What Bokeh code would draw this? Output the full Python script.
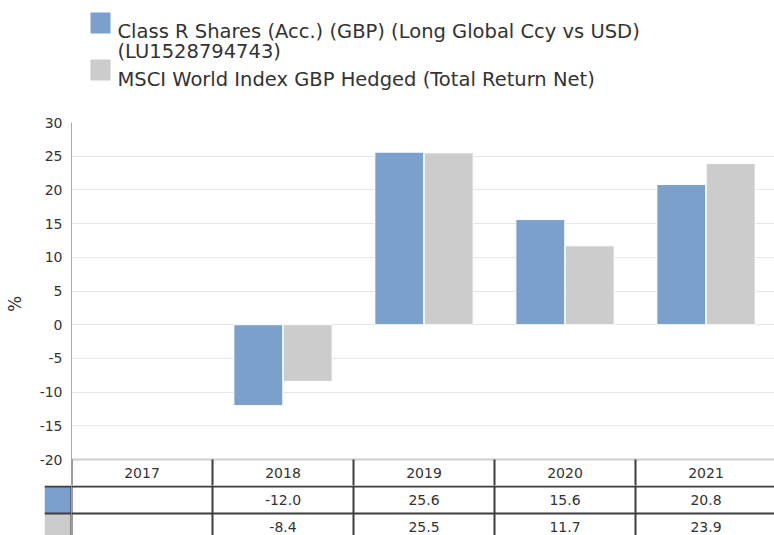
import numpy as np
from bokeh.plotting import figure
from bokeh.layouts import column, row
from bokeh.models import Range1d, FixedTicker, PrintfTickFormatter
from bokeh.core.properties import value
from bokeh.embed import file_html
from bokeh.resources import INLINE

# ---------------- data ----------------
years = ["2017", "2018", "2019", "2020", "2021"]
fund_values = [None, -12.0, 25.6, 15.6, 20.8]
index_values = [None, -8.4, 25.5, 11.7, 23.9]
fund_name_line1 = "Class R Shares (Acc.) (GBP) (Long Global Ccy vs USD)"
fund_name_line2 = "(LU1528794743)"
index_name = "MSCI World Index GBP Hedged (Total Return Net)"
y_ticks = [-20, -15, -10, -5, 0, 5, 10, 15, 20, 25, 30]
y_axis_label = "%"

# ---------------- style ----------------
FONT = "DejaVu Sans"
BLUE = "#7aa0cb"
GREY = "#cccccc"
DARK = "#3c3c3c"
TEXT = "#333333"
GRID = "#e6e6e6"
LEFT = 71

n = len(years)
centers = np.arange(n) + 0.5
X_END = 4.9858          # last column is partly cut by the window
Y_MIN = -23.85          # bottom of header row
BAR_W = 0.347
OFF = 0.175
T_RANGE = (0.185, 2.037)


def clean(fig):
    fig.axis.visible = False
    fig.grid.visible = False
    fig.outline_line_color = None


# ---------------- legend ----------------
lg = figure(width=774, height=100, x_range=Range1d(LEFT, 774), y_range=Range1d(100, 0),
            output_backend="svg", toolbar_location=None,
            min_border_left=LEFT, min_border_right=0, min_border_top=0, min_border_bottom=0)
clean(lg)
lg.quad(left=[90, 90], right=[110, 110], top=[12, 59], bottom=[33, 80],
        fill_color=[BLUE, GREY], line_color=None)
lg.text(x=[117, 117, 117], y=[31, 51, 79],
        text=[fund_name_line1, fund_name_line2, index_name],
        text_baseline="alphabetic", text_align="left",
        text_font=value(FONT), text_font_size=value("19.5px"), text_color=TEXT)

# ---------------- chart ----------------
p = figure(width=774, height=385, x_range=Range1d(0, X_END), y_range=Range1d(Y_MIN, 30),
           output_backend="svg", toolbar_location=None,
           min_border_left=LEFT, min_border_right=0, min_border_top=22, min_border_bottom=0)
p.outline_line_color = None
p.xaxis.visible = False
p.xgrid.visible = False
p.ygrid.ticker = FixedTicker(ticks=y_ticks)
p.ygrid.grid_line_color = GRID
yax = p.yaxis[0]
yax.ticker = FixedTicker(ticks=y_ticks)
yax.formatter = PrintfTickFormatter(format="%d")
yax.bounds = (-20, 30)
yax.axis_line_color = "#aaaaaa"
yax.major_tick_line_color = None
yax.minor_tick_line_color = None
yax.major_tick_out = 0
yax.major_tick_in = 0
yax.minor_tick_out = 0
yax.major_label_text_font = FONT
yax.major_label_text_font_size = "14px"
yax.major_label_text_color = TEXT
yax.major_label_standoff = 9
yax.axis_label = y_axis_label
yax.axis_label_text_font = FONT
yax.axis_label_text_font_style = "normal"
yax.axis_label_text_font_size = "17px"
yax.axis_label_text_color = TEXT
yax.axis_label_standoff = 12

fx = [c - OFF for c, v in zip(centers, fund_values) if v is not None]
fv = [v for v in fund_values if v is not None]
ix = [c + OFF for c, v in zip(centers, index_values) if v is not None]
iv = [v for v in index_values if v is not None]
p.vbar(x=fx, top=fv, bottom=0, width=BAR_W, fill_color=BLUE, line_color="white", line_width=1)
p.vbar(x=ix, top=iv, bottom=0, width=BAR_W, fill_color=GREY, line_color="white", line_width=1)

# header row of the table (years)
p.segment(x0=[0], y0=[-20], x1=[n], y1=[-20], line_color=GREY, line_width=2)
bounds = np.arange(n)
p.segment(x0=bounds, y0=[-20] * n, x1=bounds, y1=[Y_MIN] * n, line_color=DARK, line_width=2)
p.text(x=centers, y=[(-20 + Y_MIN) / 2] * n, text=years,
       text_align="center", text_baseline="middle",
       text_font=value(FONT), text_font_size=value("14px"), text_color=TEXT)

# ---------------- data table: swatch column ----------------
sw = figure(width=LEFT, height=50, x_range=Range1d(0, 1), y_range=Range1d(*T_RANGE),
            output_backend="svg", toolbar_location=None,
            min_border_left=44, min_border_right=0, min_border_top=0, min_border_bottom=0)
clean(sw)
sw.quad(left=[0, 0], right=[1, 1], top=[2, 1], bottom=[1, 0],
        fill_color=[BLUE, GREY], line_color=None)
sw.segment(x0=[0] * 3, y0=[2, 1, 0], x1=[1] * 3, y1=[2, 1, 0], line_color=DARK, line_width=2)
sw.segment(x0=[1], y0=[0], x1=[1], y1=[2.1], line_color=DARK, line_width=2)

# ---------------- data table: values ----------------
t = figure(width=774 - LEFT, height=50, x_range=Range1d(0, X_END), y_range=Range1d(*T_RANGE),
           output_backend="svg", toolbar_location=None,
           min_border_left=0, min_border_right=0, min_border_top=0, min_border_bottom=0)
clean(t)
t.segment(x0=[0] * 3, y0=[2, 1, 0], x1=[n] * 3, y1=[2, 1, 0], line_color=DARK, line_width=2)
t.segment(x0=bounds, y0=[0] * n, x1=bounds, y1=[2.1] * n, line_color=DARK, line_width=2)


def fmt(v):
    return "" if v is None else f"{v:.1f}"


t.text(x=list(centers) * 2, y=[1.5] * n + [0.5] * n,
       text=[fmt(v) for v in fund_values] + [fmt(v) for v in index_values],
       text_align="center", text_baseline="middle",
       text_font=value(FONT), text_font_size=value("14px"), text_color=TEXT)

layout = column(lg, p, row(sw, t, spacing=0), spacing=0)
open("out.html", "w").write(file_html(layout, INLINE))
